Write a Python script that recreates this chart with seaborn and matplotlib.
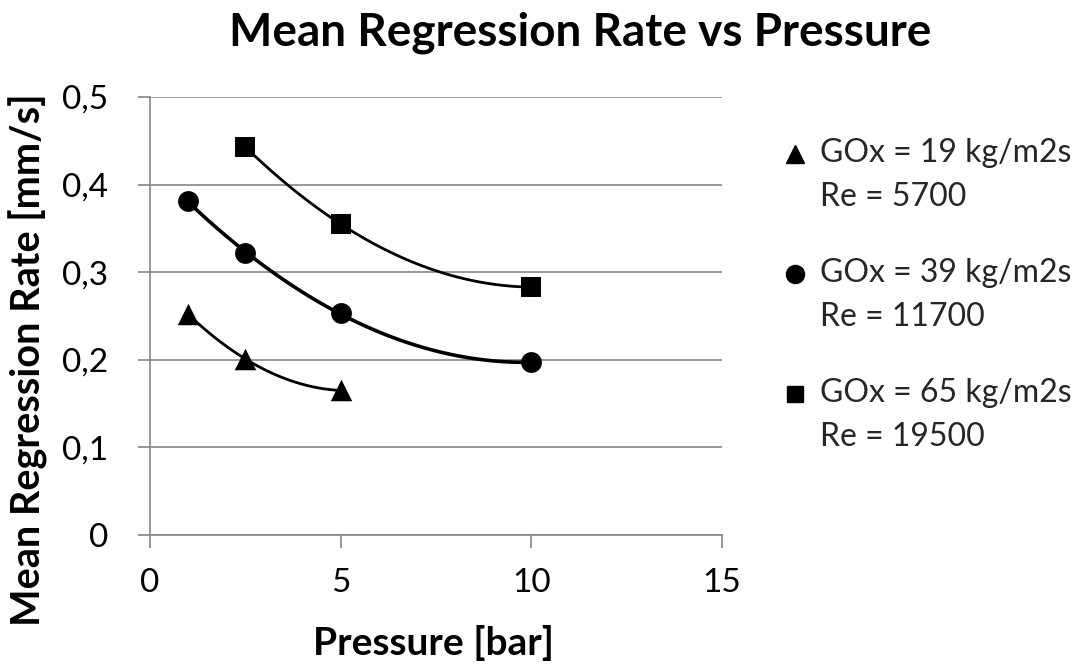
import matplotlib
matplotlib.use("Agg")
import matplotlib.pyplot as plt
from matplotlib.lines import Line2D
import seaborn as sns
import numpy as np

# Measured mean regression rates [mm/s] against chamber pressure [bar]
pressure_19 = [1.0, 2.5, 5.0]
rate_19 = [0.252, 0.201, 0.165]

pressure_39 = [1.0, 2.5, 5.0, 10.0]
rate_39 = [0.381, 0.322, 0.253, 0.197]

pressure_65 = [2.5, 5.0, 10.0]
rate_65 = [0.443, 0.355, 0.283]

series_labels = [
    "GOx = 19 kg/m2s\nRe = 5700",
    "GOx = 39 kg/m2s\nRe = 11700",
    "GOx = 65 kg/m2s\nRe = 19500",
]
x_ticks = [0, 5, 10, 15]
y_ticks = [0.0, 0.1, 0.2, 0.3, 0.4, 0.5]

sns.set_theme(style="white")
plt.rcParams["font.family"] = ["Lato", "DejaVu Sans"]

GRID = "#868686"

fig = plt.figure(figsize=(10.84, 6.68), dpi=100)
ax = fig.add_axes([150 / 1084, 1 - 535 / 668, 572 / 1084, 438 / 668])

series = [
    (pressure_19, rate_19, "^", 240, 2.0),
    (pressure_39, rate_39, "o", 225, 2.6),
    (pressure_65, rate_65, "s", 200, 2.0),
]
for xs, ys, mk, size, lw in series:
    sns.regplot(
        x=np.array(xs), y=np.array(ys), order=2, ci=None, truncate=True,
        marker=mk, color="black", ax=ax,
        scatter_kws={"s": size, "linewidths": 0, "alpha": 1, "zorder": 3},
        line_kws={"lw": lw, "zorder": 2},
    )

ax.set_xlim(0, 15)
ax.set_ylim(0, 0.5)
ax.set_xticks(x_ticks)
ax.set_yticks(y_ticks)
ax.set_xticklabels([str(t) for t in x_ticks])
ax.set_yticklabels(["0" if t == 0 else f"{t:.1f}".replace(".", ",") for t in y_ticks])

ax.grid(axis="y", color=GRID, lw=1.2)
ax.grid(axis="x", visible=False)
ax.set_axisbelow(True)
for side in ("top", "right"):
    ax.spines[side].set_visible(False)
for side in ("left", "bottom"):
    ax.spines[side].set_color(GRID)
    ax.spines[side].set_linewidth(1.2)

ax.tick_params(axis="both", which="major", direction="out", length=9, width=1.2,
               color=GRID, labelsize=24, labelcolor="black")
ax.tick_params(axis="x", pad=15, bottom=True)
ax.tick_params(axis="y", pad=21, left=True)

ax.set_xlabel("Pressure [bar]", fontsize=28, fontweight="bold", color="black")
ax.set_ylabel("Mean Regression Rate [mm/s]", fontsize=28.5, fontweight="bold", color="black")
ax.xaxis.set_label_coords(0.495, -0.205)
ax.yaxis.set_label_coords(-0.178, 0.40)

fig.text(580 / 1084, 1 - 33 / 668, "Mean Regression Rate vs Pressure",
         ha="center", va="center", fontsize=33, fontweight="bold", color="black")

handles = [
    Line2D([], [], ls="", marker="^", color="black", markersize=13),
    Line2D([], [], ls="", marker="o", color="black", markersize=13),
    Line2D([], [], ls="", marker="s", color="black", markersize=11),
]
leg = ax.legend(handles, series_labels, loc="upper left",
                bbox_to_anchor=(779 / 1084, 1 - 138 / 668), bbox_transform=fig.transFigure,
                frameon=False, fontsize=23, handlelength=1.0, handletextpad=0.28,
                labelspacing=1.42, borderpad=0, borderaxespad=0)
for t in leg.get_texts():
    t.set_linespacing(1.6)
# place each legend marker beside the first line of its label
for h in leg.legend_handles:
    h.set_ydata(np.asarray(h.get_ydata()) + 15.5)

fig.savefig("out.png", dpi=100, facecolor="white")
